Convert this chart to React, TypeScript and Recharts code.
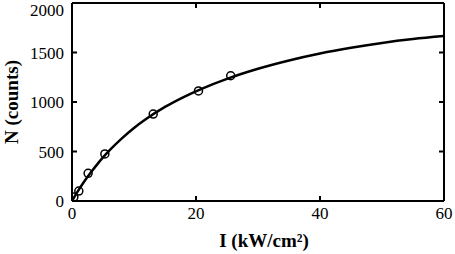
import React from 'react';
import { ComposedChart, Line, Scatter, XAxis, YAxis, Label } from 'recharts';

const curveI = [0, 1, 2, 3, 4, 5, 6, 8, 10, 12, 15, 18, 21, 25, 30, 35, 40, 45, 50, 55, 60];
const curveN = [0, 104, 199, 285, 365, 440, 508, 630, 737, 830, 950, 1050, 1136, 1234, 1336, 1420, 1490, 1548, 1597, 1636, 1666];

const measI = [0.3, 1.1, 2.6, 5.3, 13.1, 20.4, 25.6];
const measN = [40, 100, 280, 475, 878, 1112, 1265];

const xTicks = [0, 20, 40, 60];
const yTicks = [0, 500, 1000, 1500, 2000];

const curveData = curveI.map((x, i) => ({ x, y: curveN[i] }));
const measData = measI.map((x, i) => ({ x, y: measN[i] }));

const FONT = "'Liberation Serif', 'DejaVu Serif', serif";

const Circle = (props: any) => {
  const { cx, cy } = props;
  return <circle cx={cx} cy={cy} r={4} fill="none" stroke="#000" strokeWidth={1.5} />;
};

const tickStyle = { fill: '#000', fontSize: 17, fontFamily: FONT };

export default function App() {
  return (
    <div style={{ position: 'absolute', left: 0, top: 0, background: '#fff', fontFamily: FONT }}>
      <ComposedChart
        width={455}
        height={254}
        data={curveData}
        margin={{ top: 2, right: 10, bottom: 0, left: 0 }}
      >
        <XAxis
          dataKey="x"
          type="number"
          domain={[0, 60]}
          ticks={xTicks}
          height={53}
          allowDataOverflow
          stroke="#000"
          strokeWidth={2}
          tickSize={-5}
          tickMargin={11}
          tick={tickStyle}
        >
          <Label
            content={(p: any) => {
              const vb = p.viewBox;
              return (
                <text
                  x={vb.x + vb.width / 2 + 6}
                  y={vb.y + vb.height - 7}
                  textAnchor="middle"
                  fontFamily={FONT}
                  fontWeight="bold"
                  fontSize={19}
                  fill="#000"
                >
                  I (kW/cm²)
                </text>
              );
            }}
          />
        </XAxis>
        <XAxis
          xAxisId="top"
          orientation="top"
          dataKey="x"
          type="number"
          domain={[0, 60]}
          ticks={xTicks}
          height={1}
          allowDataOverflow
          stroke="#000"
          strokeWidth={2}
          tickSize={-5}
          tickFormatter={() => ''}
        />
        <YAxis
          dataKey="y"
          type="number"
          domain={[0, 2000]}
          ticks={yTicks}
          width={72}
          allowDataOverflow
          stroke="#000"
          strokeWidth={2}
          tickSize={-5}
          tickMargin={13}
          tick={tickStyle}
        >
          <Label
            content={(p: any) => {
              const vb = p.viewBox;
              const cx = vb.x + 11;
              const cy = vb.y + vb.height / 2;
              return (
                <text
                  x={cx}
                  y={cy}
                  transform={`rotate(-90 ${cx} ${cy})`}
                  textAnchor="middle"
                  dominantBaseline="central"
                  fontFamily={FONT}
                  fontWeight="bold"
                  fontSize={19}
                  fill="#000"
                >
                  N (counts)
                </text>
              );
            }}
          />
        </YAxis>
        <YAxis
          yAxisId="right"
          orientation="right"
          dataKey="y"
          type="number"
          domain={[0, 2000]}
          ticks={yTicks}
          width={1}
          allowDataOverflow
          stroke="#000"
          strokeWidth={2}
          tickSize={-5}
          tickFormatter={() => ''}
        />
        <Line
          xAxisId="top"
          yAxisId="right"
          dataKey="y"
          stroke="none"
          dot={false}
          activeDot={false}
          isAnimationActive={false}
        />
        <Line
          dataKey="y"
          type="monotone"
          stroke="#000"
          strokeWidth={2.5}
          dot={false}
          isAnimationActive={false}
        />
        <Scatter data={measData} dataKey="y" shape={<Circle />} isAnimationActive={false} />
      </ComposedChart>
    </div>
  );
}
